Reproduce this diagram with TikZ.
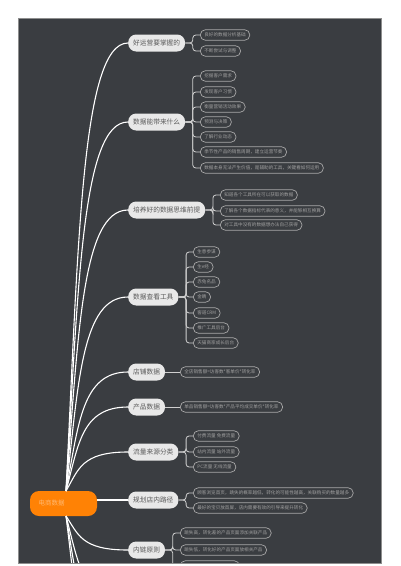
\documentclass[tikz,border=0pt]{standalone}
\usepackage{fontspec}
\newfontfamily\cjk{Noto Sans CJK SC}
\usetikzlibrary{calc}
\definecolor{bgdark}{HTML}{3A3D41}
\definecolor{frame}{HTML}{8E8E8E}
\definecolor{branchfill}{HTML}{E8E8E8}
\definecolor{branchtext}{HTML}{5A5A5A}
\definecolor{leafline}{HTML}{A8A8A8}
\definecolor{leaftext}{HTML}{A0A0A0}
\definecolor{twigcol}{HTML}{CFCFCF}
\definecolor{rootorange}{HTML}{FF8205}
\definecolor{roottext}{HTML}{FFB870}
\newcommand\trunkto[2]{\draw[trunk] let \p1=(#1), \p2=(#2) in (\p1) .. controls ({\x1+0.2*(\x2-\x1)},{\y1+0.55*(\y2-\y1)}) and ({\x1+0.25*(\x2-\x1)},\y2) .. (\p2);}
\begin{document}
\begin{tikzpicture}[x=1pt,y=-1pt,
  branch/.style={fill=branchfill, text=branchtext, rounded corners=8pt, minimum height=17pt, inner xsep=5pt, inner ysep=0pt, font=\cjk\fontsize{6.7}{7}\selectfont, anchor=west},
  leaf/.style={draw=leafline, line width=0.7pt, fill=bgdark, text=leaftext, rounded corners=5pt, minimum height=10.5pt, inner xsep=4pt, inner ysep=0pt, font=\cjk\fontsize{4.6}{5}\selectfont, anchor=west},
  rootbox/.style={fill=rootorange, text=roottext, rounded corners=9pt, minimum width=67pt, minimum height=25pt, inner sep=0pt, font=\cjk\fontsize{6.5}{7}\selectfont},
  trunk/.style={draw=white, line width=1.1pt},
  twig/.style={draw=twigcol, line width=0.8pt, rounded corners=3pt}]
\useasboundingbox (0,0) rectangle (400,566);
\fill[white] (0,0) rectangle (400,566);
\fill[bgdark] (18,18) rectangle (381,563);
\begin{scope}
\clip (18,18) rectangle (381,563);
% root
\node[rootbox] (root) at (63.5,503.5) {\makebox[50pt][l]{电商数据}};
\coordinate (rt) at (66,491);
\coordinate (rb) at (66,516);
\coordinate (h1) at (128,600);
\coordinate (h2) at (128,645);
\coordinate (h3) at (128,695);
% branches
\node[branch] (b1) at (128,43) {好运营要掌握的};
\node[branch] (b2) at (128,122) {数据能带来什么};
\node[branch] (b3) at (128,210) {培养好的数据思维前提};
\node[branch] (b4) at (128,297) {数据查看工具};
\node[branch] (b5) at (128,372) {店铺数据};
\node[branch] (b6) at (128,407) {产品数据};
\node[branch] (b7) at (128,452) {流量来源分类};
\node[branch] (b8) at (128,500) {规划店内路径};
\node[branch] (b9) at (128,550) {内链原则};
% leaves
\node[leaf] (l11) at (200,35) {良好的数据分析基础};
\node[leaf] (l12) at (200,51) {不断尝试与调整};
\node[leaf] (l21) at (200,76) {挖掘客户需求};
\node[leaf] (l22) at (200,92) {发现客户习惯};
\node[leaf] (l23) at (200,107) {衡量营销活动效果};
\node[leaf] (l24) at (200,122) {预测与决策};
\node[leaf] (l25) at (200,137) {了解行业动态};
\node[leaf] (l26) at (200,152) {季节性产品的销售周期，建立运营节奏};
\node[leaf] (l27) at (200,168) {数据本身无法产生价值，是辅助的工具，关键看如何运用};
\node[leaf] (l31) at (220,195) {知道各个工具所在可以获取的数据};
\node[leaf] (l32) at (220,211) {了解各个数据指标代表的意义，并能够相互换算};
\node[leaf] (l33) at (220,225) {对工具中没有的数据想办法自己获得};
\node[leaf] (l41) at (193,252) {生意参谋};
\node[leaf] (l42) at (193,267) {生e经};
\node[leaf] (l43) at (193,282) {赤兔名品};
\node[leaf] (l44) at (193,297) {金睛};
\node[leaf] (l45) at (193,313) {客道CRM};
\node[leaf] (l46) at (193,328) {推广工具后台};
\node[leaf] (l47) at (193,343) {天猫商家成长后台};
\node[leaf] (l51) at (180,372) {全店销售额=访客数*客单价*转化率};
\node[leaf] (l61) at (180,407) {单品销售额=访客数*产品平均成交单价*转化率};
\node[leaf] (l71) at (193,436) {付费流量\ 免费流量};
\node[leaf] (l72) at (193,452) {站内流量\ 站外流量};
\node[leaf] (l73) at (193,467) {PC流量\ 无线流量};
\node[leaf] (l81) at (193,493) {顾客浏览首页，跳失的概率越低，转化的可能性越高，关联购买的数量越多};
\node[leaf] (l82) at (193,508) {最好的宝贝放首屏，店内需要有效的引导来提升转化};
\node[leaf] (l91) at (180,533) {跳失高，转化差的产品页面添加关联产品};
\node[leaf] (l92) at (180,550) {跳失低，转化好的产品页面放相关产品};
\node[leaf, minimum width=59pt] (l93) at (180,566) {};
% trunk curves
\foreach \b in {b1,b2,b3,b4,b5,b6,b7} {\trunkto{rt}{\b.west}}
\draw[trunk] (root.east |- b8.west) -- (b8.west);
\foreach \b in {b9.west,h1,h2,h3} {\trunkto{rb}{\b}}
% twigs
\foreach \b/\l in {b1/l11,b1/l12,b2/l21,b2/l22,b2/l23,b2/l24,b2/l25,b2/l26,b2/l27,b3/l31,b3/l32,b3/l33,b4/l41,b4/l42,b4/l43,b4/l44,b4/l45,b4/l46,b4/l47,b7/l71,b7/l72,b7/l73,b8/l81,b8/l82,b9/l91,b9/l92,b9/l93}
  {\draw[twig] (\b.east) -- ++(7.5,0) |- (\l.west);}
\draw[twig] (b5.east) -- (l51.west);
\draw[twig] (b6.east) -- (l61.west);
\end{scope}
\draw[frame, line width=0.8pt] (18,18) rectangle (381,563);
\end{tikzpicture}
\end{document}
